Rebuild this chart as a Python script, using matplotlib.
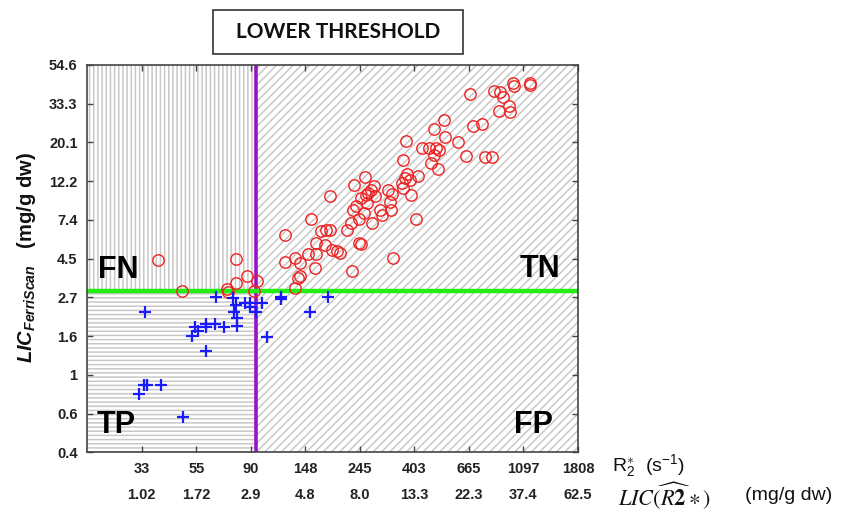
import numpy as np
import matplotlib
matplotlib.use("Agg")
import matplotlib.pyplot as plt
from matplotlib.patches import Rectangle

# ---------------- data ----------------
# Red circles: R2* (s^-1) vs LIC FerriScan (mg/g dw)
neg_r2 = [38.3, 47.7, 72.0, 72.7, 78.9, 78.9, 86.5, 92.5, 95.5, 123.6,
          123.6, 134.5, 134.5, 138.6, 141.7, 141.7, 152.0, 156.8, 162.7, 164.2,
          164.2, 171.9, 177.1, 178.7, 186.6, 190.0, 199.0, 204.2, 185.3, 217.3,
          226.8, 226.1, 229.6, 235.3, 231.6, 242.5, 242.5, 247.9, 247.9, 253.2,
          256.7, 257.8, 260.2, 263.3, 271.6, 277.4, 280.2, 274.3, 293.0, 299.9,
          316.2, 327.2, 322.2, 325.2, 330.2, 362.9, 377.7, 368.4, 387.6, 360.8,
          361.9, 417.0, 389.2, 409.9, 374.3, 432.7, 461.3, 490.8, 505.3, 480.6,
          470.6, 499.8, 480.6, 535.0, 528.1, 599.1, 650.2, 672.7, 693.2, 748.0,
          771.6, 819.9, 834.9, 885.6, 912.6, 964.1, 879.4, 972.8, 993.5, 1009.5,
          1164.0, 1168.0]
neg_lic = [4.43, 2.95, 3.02, 2.92, 4.45, 3.26, 3.57, 2.95, 3.36, 6.06,
           4.31, 4.50, 3.05, 3.48, 3.58, 4.22, 4.73, 7.45, 3.96, 5.48,
           4.73, 6.43, 5.32, 6.49, 6.49, 5.04, 4.95, 4.85, 10.1, 6.49,
           3.82, 7.10, 8.40, 8.85, 11.6, 7.45, 5.48, 5.41, 9.81, 8.11,
           12.9, 10.2, 9.16, 10.5, 10.9, 11.45, 10.1, 7.13, 8.40, 7.87,
           10.9, 10.3, 9.31, 8.35, 4.50, 16.0, 13.4, 12.7, 12.45, 11.9,
           11.15, 13.0, 10.2, 7.45, 20.6, 18.8, 18.8, 18.8, 18.2, 17.0,
           15.4, 14.2, 23.8, 21.5, 27.0, 20.3, 16.8, 37.6, 24.9, 25.4,
           16.7, 16.7, 39.2, 38.7, 36.0, 32.2, 30.3, 29.8, 43.4, 41.6,
           43.1, 42.2]

# Blue stars
pos_r2 = [32.4, 33.7, 34.8, 39.6, 34.0, 48.2, 52.4, 54.1, 55.5, 59.7,
          59.8, 64.7, 70.5, 79.4, 59.6, 65.6, 76.5, 77.2, 78.9, 79.1,
          85.1, 89.6, 89.5, 94.5, 99.5, 104.2, 118.4, 118.4, 154.3, 182.5]
pos_lic = [0.78, 0.88, 0.88, 0.88, 2.26, 0.58, 1.65, 1.86, 1.75, 1.94,
           1.85, 1.94, 1.86, 1.87, 1.36, 2.73, 2.68, 2.26, 2.46, 2.07,
           2.54, 2.53, 2.40, 2.26, 2.54, 1.64, 2.73, 2.65, 2.26, 2.74]

r2_threshold = 94.0     # s^-1
lic_threshold = 2.95    # mg/g dw

x_limits = (np.exp(3.0), np.exp(7.5))
y_limits = (np.exp(-1.0), np.exp(4.0))
x_tick_values = np.exp(np.arange(3.5, 7.51, 0.5))
x_tick_labels = ["33", "55", "90", "148", "245", "403", "665", "1097", "1808"]
lic_r2_labels = ["1.02", "1.72", "2.9", "4.8", "8.0", "13.3", "22.3", "37.4", "62.5"]
y_tick_values = np.exp(np.arange(-1.0, 4.01, 0.5))
y_tick_labels = ["0.4", "0.6", "1", "1.6", "2.7", "4.5", "7.4", "12.2", "20.1", "33.3", "54.6"]

# ---------------- style ----------------
plt.rcParams["font.family"] = ["Liberation Sans Narrow", "Liberation Sans", "DejaVu Sans"]
plt.rcParams["mathtext.fontset"] = "custom"
plt.rcParams["mathtext.it"] = "Liberation Sans:italic:bold"
plt.rcParams["mathtext.rm"] = "Liberation Sans"
plt.rcParams["hatch.linewidth"] = 1.1

W, H = 848, 513
fig = plt.figure(figsize=(W / 100, H / 100), dpi=100)
ax = fig.add_axes([87.3 / W, 1 - 452.3 / H, (578 - 87.3) / W, (452.3 - 65) / H])

ax.set_xscale("log", base=np.e)
ax.set_yscale("log", base=np.e)
ax.set_xlim(*x_limits)
ax.set_ylim(*y_limits)

hatch_col = "#c8c8c8"
x0, x1 = x_limits
y0, y1 = y_limits
regions = [
    ((x0, lic_threshold), r2_threshold - x0, y1 - lic_threshold, "||||"),
    ((x0, y0), r2_threshold - x0, lic_threshold - y0, "----"),
    ((r2_threshold, y0), x1 - r2_threshold, y1 - y0, "////"),
]
for xy, w, h, hatch in regions:
    ax.add_patch(Rectangle(xy, w, h, facecolor="white", edgecolor=hatch_col,
                           linewidth=0, hatch=hatch, zorder=0))

ax.axvline(r2_threshold, color="#9a12c8", lw=2.6, zorder=2)
ax.axhline(lic_threshold, color="#22ee11", lw=3.2, zorder=2)

ax.plot(neg_r2, neg_lic, linestyle="none", marker="o", ms=8.2, mfc="none",
        mec="#ee2222", mew=1.0, zorder=3)
ax.plot(pos_r2, pos_lic, linestyle="none", marker="+", ms=8, mec="#1a1aff",
        mew=1.6, zorder=3)

ax.set_xticks(x_tick_values)
ax.set_xticklabels(x_tick_labels)
ax.set_yticks(y_tick_values)
ax.set_yticklabels(y_tick_labels)
ax.minorticks_off()
ax.tick_params(direction="in", length=4, width=1, color="#444444",
               top=True, right=True, labelsize=10.5, labelcolor="#222222")
ax.tick_params(axis="x", pad=7)
ax.tick_params(axis="y", pad=7)
for lab in ax.get_xticklabels() + ax.get_yticklabels():
    lab.set_fontweight("bold")
for sp in ax.spines.values():
    sp.set_color("#444444")
    sp.set_linewidth(1.2)

# second row of x labels: LIC derived from R2*
for xv, lab in zip(x_tick_values, lic_r2_labels):
    ax.text(xv, -0.11, lab, transform=ax.get_xaxis_transform(), ha="center",
            va="center", fontsize=10.5, fontweight="bold", color="#222222")

# quadrant labels
qkw = dict(transform=ax.transAxes, fontsize=22, fontweight="bold",
           family=["Liberation Sans"], color="black", zorder=4)
ax.text(0.022, 0.45, "FN", ha="left", va="baseline", **qkw)
ax.text(0.963, 0.453, "TN", ha="right", va="baseline", **qkw)
ax.text(0.02, 0.05, "TP", ha="left", va="baseline", **qkw)
ax.text(0.949, 0.05, "FP", ha="right", va="baseline", **qkw)

# axis titles
fig.text(612 / W, 1 - 466 / H, r"R$_2^{\ast}$  (s$^{-1}$)", ha="left", va="center",
         fontsize=14, family=["Liberation Sans"], color="#111111")
fig.text(618 / W, 1 - 496 / H, r"$LIC\widehat{(R\mathbf{2}}\ast)$", ha="left",
         va="center", fontsize=16, math_fontfamily="stix", color="#111111")
fig.text(745 / W, 1 - 496 / H, "(mg/g dw)", ha="left", va="center",
         fontsize=14, family=["Liberation Sans"], color="#111111")
fig.text(27 / W, 1 - 258 / H, r"$LIC_{FerriScan}$   (mg/g dw)", rotation=90,
         ha="center", va="center", fontsize=14.5, fontweight="bold",
         family=["Liberation Sans"], color="#111111")

# boxed title
fig.add_artist(Rectangle((213 / W, 1 - 54 / H), 250 / W, 44 / H,
                         transform=fig.transFigure, facecolor="white",
                         edgecolor="#333333", linewidth=1.2))
fig.text(338 / W, 1 - 32 / H, "LOWER THRESHOLD", ha="center", va="center",
         fontsize=15, fontweight="bold", family=["Lato", "DejaVu Sans"],
         color="#111111")

fig.savefig("out.png", dpi=100)
